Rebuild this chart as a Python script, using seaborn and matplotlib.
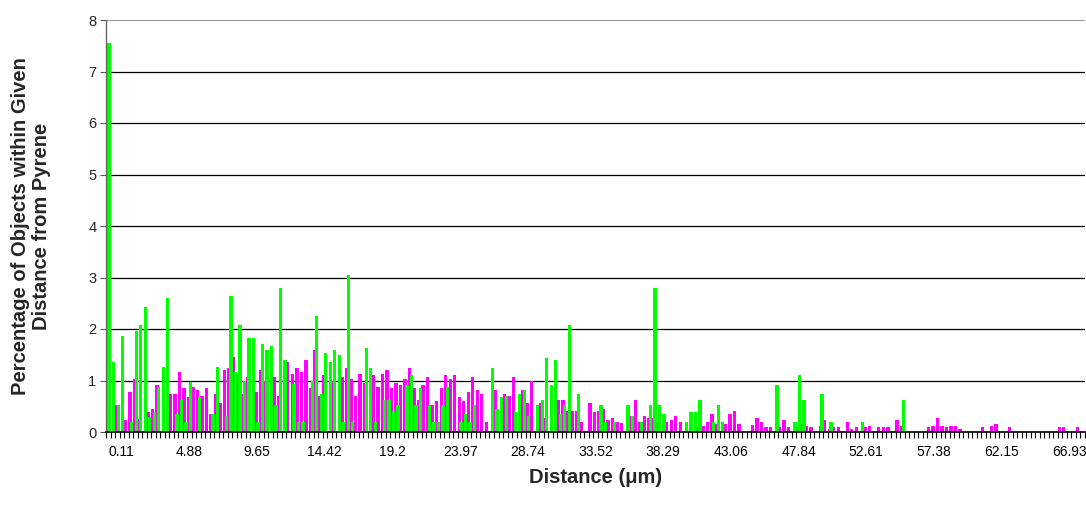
import numpy as np
import pandas as pd
import seaborn as sns
import matplotlib
matplotlib.use("Agg")
import matplotlib.pyplot as plt
import matplotlib.transforms as mtransforms

sns.set_theme(style="white")
plt.rcParams['font.family'] = ['Liberation Sans', 'DejaVu Sans']

# Percentage of objects per distance bin (two series)
magenta_values = [
    1.77, 0, 0.52, 0, 0.23, 0.78, 1.02, 0.25, 0, 0.38,
    0.45, 0.92, 0, 0, 0.74, 0.74, 1.17, 0.85, 0.67, 0.88,
    0.82, 0.70, 0.85, 0.34, 0.74, 0.56, 1.20, 1.24, 1.46, 1.10,
    0.74, 1.06, 0, 0.78, 1.20, 0.99, 0, 1.06, 0.70, 0,
    1.35, 1.13, 1.24, 1.17, 1.40, 0.85, 1.60, 0.70, 1.10, 0,
    0.99, 0, 1.06, 1.24, 1.03, 0.70, 1.13, 0.95, 0, 1.10,
    0.88, 1.13, 1.21, 0.85, 0.95, 0.92, 1.03, 1.24, 0.85, 0.63,
    0.92, 1.06, 0.52, 0.60, 0.85, 1.10, 1.03, 1.10, 0.67, 0.60,
    0.78, 1.06, 0.82, 0.74, 0.19, 0, 0.82, 0, 0.74, 0.70,
    1.06, 0, 0.82, 0.56, 0.99, 0, 0.56, 0.27, 0, 0,
    0.63, 0.63, 0.41, 0.41, 0.41, 0.19, 0, 0.56, 0.38, 0.41,
    0.45, 0.23, 0.27, 0.19, 0.17, 0, 0.31, 0.63, 0.19, 0.31,
    0.27, 0.27, 0.19, 0, 0.19, 0.23, 0.31, 0.19, 0, 0,
    0, 0.09, 0.12, 0.19, 0.34, 0.16, 0, 0.16, 0.34, 0.41,
    0.16, 0, 0, 0.13, 0.27, 0.19, 0.09, 0.09, 0, 0.09,
    0.23, 0.09, 0, 0.09, 0.16, 0.12, 0.09, 0, 0.12, 0.23,
    0.06, 0.09, 0.09, 0, 0.19, 0.05, 0.09, 0, 0.09, 0.12,
    0, 0.09, 0.09, 0.09, 0, 0.23, 0.12, 0, 0, 0,
    0, 0, 0.09, 0.12, 0.27, 0.12, 0.09, 0.12, 0.12, 0.05,
    0, 0, 0, 0, 0.09, 0, 0.12, 0.16, 0, 0,
    0.09, 0, 0, 0, 0, 0, 0, 0, 0, 0,
    0, 0.09, 0.09, 0, 0, 0.09, 0,
]
green_values = [
    7.55, 1.35, 0.52, 1.86, 0, 0.19, 1.97, 2.07, 2.43, 0.30,
    0.38, 0.88, 1.27, 2.61, 0, 0.35, 0.63, 0.19, 0.98, 0,
    0.67, 0, 0, 0.34, 1.27, 0, 0.31, 2.65, 1.17, 2.07,
    0.99, 1.82, 1.82, 0.19, 1.71, 1.60, 1.67, 0.52, 2.80, 1.40,
    0, 0.94, 0.19, 0.19, 0, 0.99, 2.25, 0.74, 1.54, 1.35,
    1.60, 1.50, 0.19, 3.05, 0.19, 0, 0, 1.64, 1.24, 0.19,
    0, 0.63, 0.63, 0.38, 0.52, 0, 0.92, 1.10, 0.52, 0.85,
    0, 0.52, 0.19, 0.19, 0.52, 0.88, 0, 0, 0.19, 0.34,
    0.19, 0.52, 0, 0, 0, 1.24, 0.45, 0.67, 0.70, 0,
    0.38, 0.74, 0.82, 0.31, 0, 0.52, 0.63, 1.43, 0.92, 1.40,
    0.34, 0.52, 2.07, 0, 0.74, 0, 0, 0, 0, 0.52,
    0.19, 0, 0.19, 0, 0, 0.52, 0.31, 0, 0.19, 0,
    0.52, 2.80, 0.52, 0.34, 0, 0, 0, 0, 0.19, 0.38,
    0.38, 0.63, 0, 0, 0.19, 0.52, 0.19, 0, 0, 0,
    0, 0, 0, 0, 0, 0, 0, 0, 0.92, 0,
    0, 0, 0.19, 1.10, 0.63, 0, 0, 0, 0.74, 0,
    0.19, 0, 0, 0, 0, 0, 0, 0.19, 0, 0,
    0, 0, 0, 0, 0, 0, 0.63, 0, 0, 0,
    0, 0, 0, 0, 0, 0, 0, 0, 0, 0,
    0, 0, 0, 0, 0, 0, 0, 0, 0, 0,
    0, 0, 0, 0, 0, 0, 0, 0, 0, 0,
    0, 0, 0, 0, 0, 0, 0,
]
tick_labels = ["0.11", "4.88", "9.65", "14.42", "19.2", "23.97", "28.74",
               "33.52", "38.29", "43.06", "47.84", "52.61", "57.38",
               "62.15", "66.93"]

n = len(magenta_values)
bins = list(range(n))
df = pd.DataFrame({"bin": bins, "magenta": magenta_values, "green": green_values})

W, H = 1086, 514
fig = plt.figure(figsize=(W / 100, H / 100), dpi=100)
ax = fig.add_axes([106 / W, 82 / H, 979 / W, 412 / H])

bar_w = 0.74
sns.barplot(data=df, x="bin", y="magenta", order=bins, color="#FF00FF",
            saturation=1, width=bar_w, errorbar=None, ax=ax, linewidth=0)
sns.barplot(data=df, x="bin", y="green", order=bins, color="#00FF00",
            saturation=1, width=bar_w, errorbar=None, ax=ax, linewidth=0)

# Excel-style partial overlap: magenta slightly left, green slightly right
for cont, dx in zip(ax.containers, (-0.2, 0.2)):
    for p in cont:
        p.set_transform(mtransforms.Affine2D().translate(dx, 0) + ax.transData)

ax.set_xlim(-0.5, n - 0.5)
ax.set_ylim(0, 8)
ax.set_yticks(range(0, 9))
ax.set_yticklabels([str(v) for v in range(0, 9)], fontsize=10.5)

for v in range(1, 8):
    ax.axhline(v, color="black", lw=0.9, zorder=0.5)
ax.axhline(8, color="#808080", lw=1.2, zorder=0.5)

label_pos = [3.0 + 15 * i for i in range(len(tick_labels))]
ax.set_xticks(label_pos)
ax.set_xticklabels(tick_labels, fontsize=10)
ax.set_xticks(np.arange(-0.5, n, 1.0), minor=True)
ax.tick_params(axis="x", which="major", length=0, pad=9, colors="black")
ax.tick_params(axis="x", which="minor", bottom=True, length=4.5, width=0.8, color="black")
ax.tick_params(axis="y", which="major", left=True, length=4, width=0.8, pad=3, color="#555555")

for s in ("top", "right"):
    ax.spines[s].set_visible(False)
ax.spines["left"].set_color("#666666")
ax.spines["left"].set_linewidth(1.0)
ax.spines["bottom"].set_color("black")
ax.spines["bottom"].set_linewidth(1.2)

ax.set_xlabel("Distance (\u03bcm)", fontsize=14.5, fontweight="bold")
ax.xaxis.set_label_coords(0.5005, -0.088)
ax.set_ylabel("Percentage of Objects within Given\nDistance from Pyrene",
              fontsize=14.5, fontweight="bold", linespacing=1.15)
ax.yaxis.set_label_coords(-0.056, 0.5)

fig.savefig("out.png", dpi=100)
